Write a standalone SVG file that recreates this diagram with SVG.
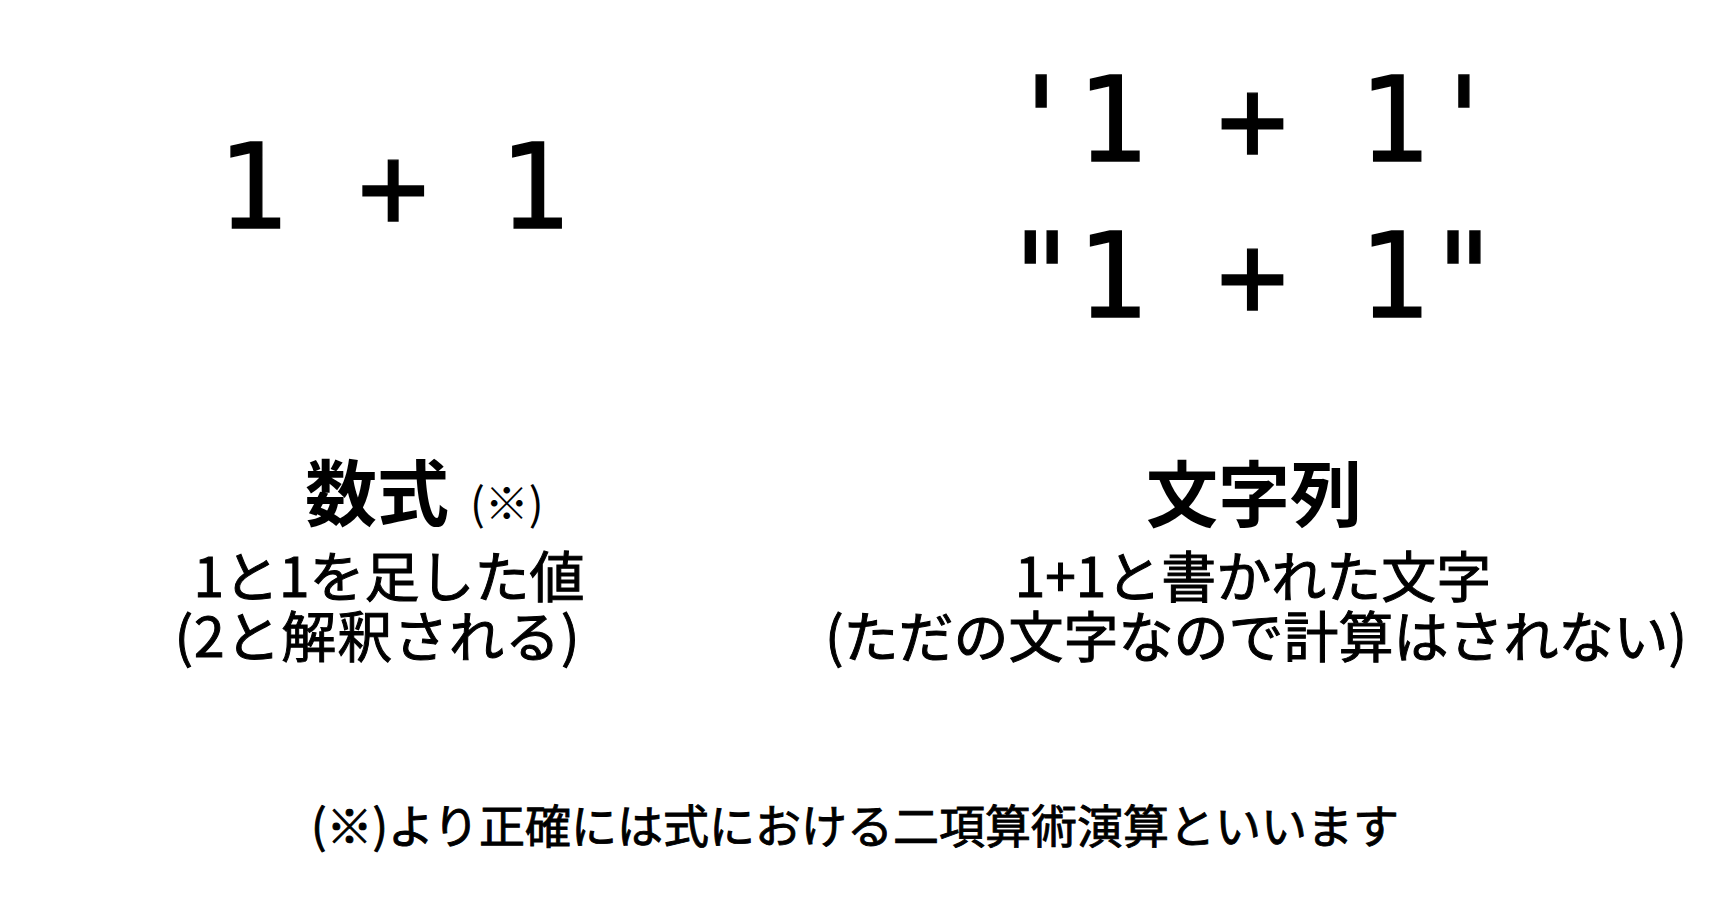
<svg xmlns="http://www.w3.org/2000/svg" width="1728" height="920" viewBox="0 0 1728 920">
  <style>
    .mono { font-family: "DejaVu Sans Mono", "Liberation Mono", monospace; font-size: 117px; fill: #000; stroke: #000; stroke-width: 1.4px; }
    .jp { font-family: "Noto Sans CJK JP", sans-serif; fill: #000; }
    .head { font-size: 72px; font-weight: bold; }
    .note { font-size: 44px; }
    .body { font-size: 55px; stroke: #000; stroke-width: 1px; }
    .foot { font-size: 46px; stroke: #000; stroke-width: 0.9px; }
  </style>
  <rect x="0" y="0" width="1728" height="920" fill="#fff"/>
  <g id="expression">
    <text class="mono" x="217" y="228" xml:space="preserve">1 + 1</text>
  </g>
  <g id="strings">
    <text class="mono" x="1006" y="161" xml:space="preserve">'1 + 1'</text>
    <text class="mono" x="1006" y="317" xml:space="preserve">"1 + 1"</text>
  </g>
  <g id="formula-label">
    <text class="jp head" x="305" y="520">数式</text>
    <text class="jp note" x="470" y="520">(※)</text>
    <text class="jp body" x="389" y="597" text-anchor="middle">1と1を足した値</text>
    <text class="jp body" x="377" y="657" text-anchor="middle" textLength="405" lengthAdjust="spacing">(2と解釈される)</text>
  </g>
  <g id="string-label">
    <text class="jp head" x="1254" y="521" text-anchor="middle">文字列</text>
    <text class="jp body" x="1253" y="597" text-anchor="middle">1+1と書かれた文字</text>
    <text class="jp body" x="1256" y="657" text-anchor="middle">(ただの文字なので計算はされない)</text>
  </g>
  <g id="footnote">
    <text class="jp foot" x="855" y="843" text-anchor="middle">(※)より正確には式における二項算術演算といいます</text>
  </g>
  <g id="connectors"/>
</svg>
